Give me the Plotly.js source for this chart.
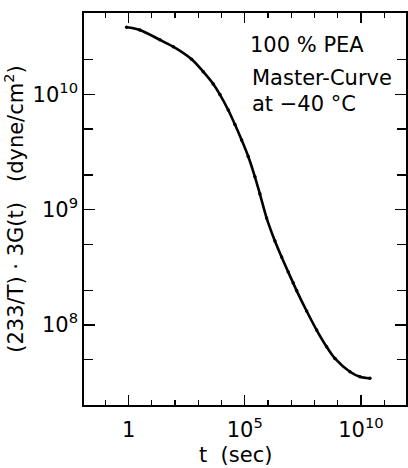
<!DOCTYPE html>
<html>
<head>
<meta charset="utf-8">
<script src="https://cdn.plot.ly/plotly-3.0.1.min.js"></script>
<style>html,body{margin:0;padding:0;background:#fff;}#chart{width:408px;height:468px;}</style>
</head>
<body>
<div id="chart"></div>
<script>
// log10 of time t (sec)
const logT = [-0.086, 0.486, 1.347, 1.920, 2.712, 3.211, 3.642, 3.931, 4.288, 4.577, 4.864, 5.149, 5.437, 5.652, 5.941, 6.298, 6.586, 6.870, 7.086, 7.232, 7.662, 8.093, 8.523, 8.881, 9.526, 9.957, 10.387];
// log10 of (233/T)*3G(t) in dyne/cm^2
const logG = [10.581, 10.558, 10.472, 10.413, 10.304, 10.196, 10.089, 9.998, 9.864, 9.738, 9.604, 9.461, 9.285, 9.135, 8.927, 8.728, 8.589, 8.459, 8.363, 8.298, 8.121, 7.956, 7.811, 7.710, 7.594, 7.551, 7.537];

const xTickVals = [1, 1e5, 1e10];
const xTickText = ['1', '10<sup>5</sup>', '10<sup>10</sup>'];
const xMinorVals = [0.1, 10, 100, 1e3, 1e4, 1e6, 1e7, 1e8, 1e9, 1e11];
const yTickVals = [1e8, 1e9, 1e10];
const yTickText = ['10<sup>8</sup>', '10<sup>9</sup>', '10<sup>10</sup>'];
const yMinorVals = [5e7, 2e8, 5e8, 2e9, 5e9, 2e10];

const t = logT.map(v => Math.pow(10, v));
const G = logG.map(v => Math.pow(10, v));

const font = {family: 'DejaVu Sans, sans-serif', size: 21, color: '#000'};

const trace = {
  x: t, y: G, type: 'scatter', mode: 'lines+markers',
  line: {color: '#000', width: 2.6, shape: 'spline', smoothing: 0.9},
  marker: {color: '#000', size: 3.5},
  hoverinfo: 'none'
};

const layout = {
  width: 408, height: 468,
  margin: {l: 84, r: 2, t: 13, b: 63},
  paper_bgcolor: '#fff', plot_bgcolor: '#fff',
  showlegend: false,
  font: font,
  xaxis: {
    type: 'log', range: [-1.92, 11.94],
    tickmode: 'array', tickvals: xTickVals, ticktext: xTickText,
    ticks: 'inside', ticklen: 10, tickwidth: 1.3, tickcolor: '#000',
    ticklabelstandoff: 5,
    minor: {tickmode: 'array', tickvals: xMinorVals, ticks: 'inside', ticklen: 5, tickwidth: 1.3, tickcolor: '#000', showgrid: false},
    showline: true, linecolor: '#000', linewidth: 1.8, mirror: 'ticks',
    showgrid: false, zeroline: false,
    tickfont: font
  },
  yaxis: {
    type: 'log', range: [7.306, 10.705],
    tickmode: 'array', tickvals: yTickVals, ticktext: yTickText,
    ticks: 'inside', ticklen: 11, tickwidth: 1.3, tickcolor: '#000',
    minor: {tickmode: 'array', tickvals: yMinorVals, ticks: 'inside', ticklen: 9, tickwidth: 1.3, tickcolor: '#000', showgrid: false},
    showline: true, linecolor: '#000', linewidth: 1.8, mirror: 'ticks',
    showgrid: false, zeroline: false,
    tickfont: font,
    title: {text: '(233/T) · 3G(t)   (dyne/cm<sup>2</sup>)', font: font, standoff: 6}
  },
  annotations: [
    {xref: 'paper', yref: 'paper', x: 0.469, y: -0.128, xanchor: 'center', yanchor: 'middle', text: 't  (sec)', showarrow: false, font: font},
    {xref: 'paper', yref: 'paper', x: 0.509, y: 0.919, xanchor: 'left', yanchor: 'middle', text: '100 % PEA', showarrow: false, font: font},
    {xref: 'paper', yref: 'paper', x: 0.515, y: 0.833, xanchor: 'left', yanchor: 'middle', text: 'Master-Curve', showarrow: false, font: font},
    {xref: 'paper', yref: 'paper', x: 0.515, y: 0.768, xanchor: 'left', yanchor: 'middle', text: 'at −40 °C', showarrow: false, font: font}
  ]
};

Plotly.newPlot('chart', [trace], layout, {staticPlot: true, displayModeBar: false});
</script>
</body>
</html>
